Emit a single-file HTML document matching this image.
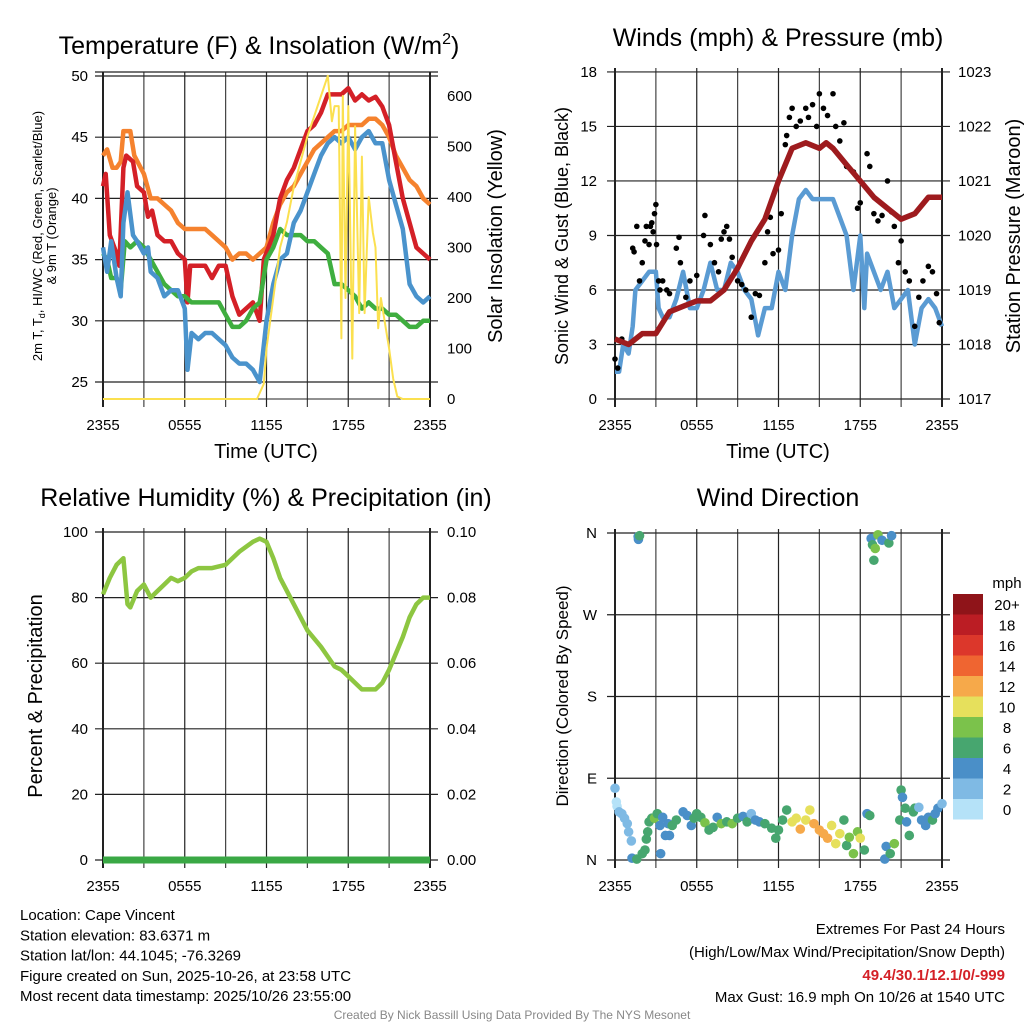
<!DOCTYPE html>
<html><head><meta charset="utf-8"><style>
html,body{margin:0;padding:0;background:#fff;width:1024px;height:1024px;overflow:hidden}
svg text{font-family:"Liberation Sans",sans-serif;fill:#000}
</style></head><body>
<svg id="c" width="1024" height="1024" xmlns="http://www.w3.org/2000/svg"></svg>
<script>
const timeTicks = ["2355","0555","1155","1755","2355"];
const tempTicks = [25,30,35,40,45,50];
const solarTicks = [0,100,200,300,400,500,600];
const windTicks = [0,3,6,9,12,15,18];
const presTicks = [1017,1018,1019,1020,1021,1022,1023];
const rhTicks = [0,20,40,60,80,100];
const precipTicks = ["0.00","0.02","0.04","0.06","0.08","0.10"];
const dirTicks = ["N","E","S","W","N"];
const legendLabels = ["0","2","4","6","8","10","12","14","16","18","20+"];
const legendColors = ["#b5e2f8","#7fbae4","#4a8fc8","#47a66f","#7bc24b","#e6e05c","#f6a94a","#ef6531","#dc372b","#bb1d24","#8f1419"];

const tempRed = [[0,41],[0.2,42],[0.5,37],[1,35.5],[1.2,34.5],[1.5,42.5],[1.7,43.5],[2.2,43],[2.5,41],[3,40.5],[3.3,38.5],[3.6,39],[4,37],[4.5,36.5],[5,36.5],[5.5,35.5],[6,35],[6.2,31.5],[6.4,34.5],[7,34.5],[7.5,34.5],[8,33.5],[8.5,34.5],[9,34.5],[9.5,32],[10,30.5],[10.5,31],[11,31.5],[11.5,30],[11.8,35],[12.5,37],[13,40],[13.5,41.5],[14,42.5],[14.5,44],[15,45.5],[15.5,46],[16,47],[16.5,48.5],[17,48.5],[17.5,48.5],[18,49],[18.5,48],[19,48.5],[19.5,48],[20,48.3],[20.5,47.5],[21,46],[21.5,43],[22,40],[22.5,38],[23,36],[23.5,35.5],[24,35]];
const tempOrange = [[0,43.5],[0.3,44],[0.7,42.5],[1,42.5],[1.3,43],[1.5,45.5],[2,45.5],[2.3,43.5],[3,42],[3.5,40],[4,40],[4.5,39.5],[5,39],[5.5,38],[6,37.5],[6.5,37.5],[7,37.5],[7.5,37.5],[8,37],[8.5,36.5],[9,36],[9.5,35],[10,35.5],[10.5,35.5],[11,35],[11.5,35.5],[12,36],[12.5,38],[13,39.5],[13.5,40.5],[14,41],[14.5,42],[15,43],[15.5,44],[16,44.5],[16.5,45],[17,45.5],[17.5,45.5],[18,46],[18.5,46],[19,46],[19.5,46.5],[20,46.5],[20.5,46],[21,45],[21.5,43.5],[22,42.5],[22.5,41.5],[23,41],[23.5,40],[24,39.5]];
const tempGreen = [[0,35.5],[0.3,35],[0.6,33.5],[1,33.5],[1.3,32.5],[1.6,36.5],[2,36],[2.5,36.5],[3,36],[3.5,35],[4,34],[4.5,33],[5,32.5],[5.5,32],[6,32],[6.5,31.5],[7,31.5],[7.5,31.5],[8,31.5],[8.5,31.5],[9,30.5],[9.5,29.5],[10,29.5],[10.5,30],[11,31],[11.5,31.5],[12,35],[12.5,36],[13,37.5],[13.5,37],[14,37],[14.5,37],[15,36.5],[15.5,36.5],[16,36],[16.5,35.5],[17,33],[17.5,33],[18,32.5],[18.5,32],[19,31],[19.5,31.5],[20,31],[20.5,31],[21,30.5],[21.5,30.5],[22,30],[22.5,29.5],[23,29.5],[23.5,30],[24,30]];
const tempBlue = [[0,36],[0.3,34],[0.6,36.5],[1,33.5],[1.3,32],[1.5,38],[1.8,40.5],[2.2,37],[2.5,36.5],[3,35.5],[3.3,36],[3.5,34],[4,33.5],[4.5,32],[5,32.5],[5.5,32.5],[6,31],[6.2,26],[6.5,29],[7,28.5],[7.5,29],[8,29],[8.5,28.5],[9,28],[9.5,27],[10,26.5],[10.5,26.5],[11,26],[11.5,25],[11.8,28],[12,30],[12.5,33],[13,35],[13.5,35.5],[14,38],[14.5,39],[15,40.5],[15.5,42],[16,43.5],[16.5,44.5],[17,45],[17.5,44.5],[18,45],[18.5,44],[19,45],[19.5,45.5],[20,44.5],[20.5,44.5],[21,41.5],[21.5,39.5],[22,37.5],[22.5,33],[23,32],[23.5,31.5],[24,32]];
const solar = [[0,0],[11.3,0],[11.8,30],[12,100],[12.5,200],[13,300],[13.5,350],[14,420],[14.5,470],[15,520],[15.5,560],[16,600],[16.5,640],[16.8,550],[17,580],[17.3,580],[17.5,120],[17.6,600],[17.8,200],[18,580],[18.3,80],[18.5,540],[18.8,170],[19,480],[19.2,170],[19.5,400],[19.8,330],[20,300],[20.2,140],[20.4,200],[20.7,150],[21,100],[21.3,40],[21.6,5],[22,0],[24,0]];
const windSpeed = [[0,1.5],[0.3,1.5],[0.6,3],[1,2.5],[1.3,4],[1.5,6],[2,6.5],[2.5,7],[3,7],[3.2,5],[3.5,4.5],[4,4.5],[4.5,5.5],[5,7],[5.5,5],[6,5],[6.5,6],[7,7.5],[7.5,6],[8,6],[8.5,7.5],[9,7],[9.5,6],[10,5.5],[10.5,3.5],[11,5],[11.5,5],[12,7],[12.5,6],[13,9],[13.5,11],[14,11.5],[14.5,11],[15,11],[15.5,11],[16,11],[16.5,10],[17,9],[17.5,6],[18,9],[18.3,5],[18.5,8],[19,7],[19.5,6],[20,7],[20.5,5],[21,5.5],[21.5,6],[22,3],[22.5,5],[23,5.5],[23.5,5],[24,4]];
const pressure = [[0,1018.1],[1,1018.0],[2,1018.2],[3,1018.2],[3.5,1018.4],[4,1018.6],[5,1018.7],[6,1018.8],[7,1018.8],[8,1019.0],[9,1019.4],[10,1019.9],[11,1020.3],[12,1021.0],[12.5,1021.3],[13,1021.6],[14,1021.7],[15,1021.6],[15.5,1021.7],[16,1021.6],[17,1021.3],[18,1021.0],[19,1020.7],[20,1020.5],[21,1020.3],[22,1020.4],[23,1020.7],[24,1020.7]];
const gusts = [[0,2.2],[0.2,1.7],[0.5,3.3],[1.3,8.3],[1.4,8.1],[1.6,9.5],[1.8,6.5],[2,7.5],[2.2,8.7],[2.3,9.5],[2.5,8.5],[2.6,9.5],[2.7,9.7],[2.8,9.2],[2.9,10.2],[3,10.7],[3.05,8.5],[3.2,6.5],[3.3,6.0],[3.5,6.5],[3.8,6],[4,5.8],[4.5,8.3],[4.7,8.9],[4.8,7.5],[5.2,5.6],[5.5,6.5],[6,6.8],[6.5,9.0],[6.6,10.1],[7,8.5],[7.3,7.5],[7.6,7],[7.8,8.8],[8,9.2],[8.2,9.5],[8.4,8.8],[8.6,7.8],[9,6.5],[9.3,6.3],[9.6,6.0],[10,4.5],[10.3,5.8],[10.6,5.7],[11,7.5],[11.2,9.2],[11.4,10],[11.6,8],[12,8.2],[12.2,10.2],[12.5,14.0],[12.6,14.5],[12.8,15.5],[13,16],[13.3,15],[13.6,15.3],[14,16],[14.2,15.5],[14.5,16.2],[14.8,15],[15,16.8],[15.3,16],[15.6,15.6],[16,16.8],[16.2,15],[16.5,14.2],[16.8,15.2],[17,12.8],[17.5,12.5],[17.8,10.5],[18,10.8],[18.5,13.5],[18.7,12.8],[19,10.2],[19.3,9.8],[19.6,10.1],[20,12],[20.3,10.3],[20.5,9.5],[20.8,7.5],[21,8.7],[21.3,7],[21.6,6.5],[22,4],[22.3,5.6],[22.6,6.5],[23,7.3],[23.3,7],[23.6,5.8],[23.8,4.2]];
const humidity = [[0,81],[0.5,86],[1,90],[1.5,92],[1.8,78],[2,77],[2.5,82],[3,84],[3.5,80],[4,82],[4.5,84],[5,86],[5.5,85],[6,86],[6.5,88],[7,89],[8,89],[9,90],[10,94],[11,97],[11.5,98],[12,97],[12.5,92],[13,86],[14,78],[15,70],[16,65],[16.5,62],[17,59],[17.5,58],[18,56],[18.5,54],[19,52],[20,52],[20.5,54],[21,58],[22,68],[22.5,74],[23,78],[23.5,80],[24,80]];
const precip = [[0,0],[24,0]];
const dirHours = [0,0.1,0.15,0.3,0.5,0.7,0.9,1.0,1.2,1.25,1.6,1.7,1.72,1.8,2.0,2.2,2.3,2.4,2.5,2.7,2.9,3.1,3.3,3.35,3.5,3.7,3.9,4,4.2,4.5,5,5.3,5.6,5.8,6,6.3,6.6,6.9,7.2,7.5,7.8,8.2,8.6,9,9.4,9.7,10,10.3,10.6,11,11.5,11.8,12,12.3,12.6,13,13.3,13.6,14,14.3,14.6,15,15.3,15.6,15.9,16.2,16.5,16.8,17,17.2,17.5,17.8,18,18.3,18.5,18.7,18.8,18.9,19,19.1,19.3,19.6,19.8,19.9,20.1,20.3,20.2,20.5,20.9,21,21.1,21.3,21.4,21.6,21.9,22,22.3,22.5,22.8,23,23.3,23.5,23.7,24];
const dirDegrees = [79,64,59,53,51,46,40,31,21,2,1,356,353,357,7,11,23,31,42,46,46,51,38,7,47,27,40,27,38,44,53,49,38,46,51,47,41,33,36,47,40,42,40,46,48,42,51,44,42,40,35,24,33,44,55,42,46,34,44,55,40,33,29,24,38,18,29,44,16,25,7,31,24,11,51,49,354,347,330,343,358,352,1,15,349,357,7,18,44,77,69,57,42,27,53,57,58,44,38,47,44,51,57,62];
const dirSpeeds = [2,1,1,2,2,2,2,2,2,4,6,4,4,6,6,6,6,6,6,6,8,6,4,4,4,4,4,4,6,6,4,4,4,6,6,6,8,6,6,4,8,6,8,6,4,6,2,4,4,6,6,6,6,6,6,10,10,12,10,10,12,12,12,12,10,10,10,6,6,8,8,8,10,6,4,6,4,6,6,8,8,4,4,4,6,4,6,8,6,6,4,6,4,6,6,6,2,4,4,4,6,4,4,2];

const NS="http://www.w3.org/2000/svg";
const svg=document.getElementById('c');
function mk(tag,attrs,parent){const e=document.createElementNS(NS,tag);for(const k in attrs)e.setAttribute(k,attrs[k]);(parent||svg).appendChild(e);return e;}
function txt(s,x,y,size,anchor,parent,extra){const t=mk('text',Object.assign({x:x,y:y,'font-size':size,'text-anchor':anchor||'middle'},extra||{}),parent);t.textContent=s;return t;}

const panels=[
 {id:'temperature',x0:103,x1:430,y0:72,y1:399},
 {id:'wind',x0:615,x1:942,y0:72,y1:399},
 {id:'humidity',x0:103,x1:430,y0:532,y1:860},
 {id:'direction',x0:615,x1:942,y0:533,y1:860}
];
function xs(p,h){return p.x0+h*(p.x1-p.x0)/24;}
function pathOf(arr,fx,fy){return arr.map((d,i)=>(i?'L':'M')+fx(d[0]).toFixed(1)+' '+fy(d[1]).toFixed(1)).join(' ');}

function grid(p,g,hLines){
  for(let i=0;i<=8;i++){const x=xs(p,i*3);
    const l=mk('line',{x1:x,x2:x,y1:p.y0-(p.id==='temperature'?0:4),y2:p.y1+8,stroke:i%2?'#444':'#222','stroke-width':i===0||i===8?2:1.2},g);
    
    
  }
  hLines.forEach(y=>{const l=mk('line',{x1:p.x0-8,x2:p.x1+8,y1:y,y2:y,stroke:'#222','stroke-width':1.2},g);
    
    });
  timeTicks.forEach((s,i)=>{const t=txt(s,xs(p,i*6),p.y1+31,15,'middle',g);
    
    });
}

(function(){
 const p=panels[0];
 const g=mk('g',{});
 const yT=v=>76+(50-v)*12.24, yS=v=>399-v*0.505;
 const tt=txt('Temperature (F) & Insolation (W/m',259,54,25,'middle',g);
 const sup=mk('tspan',{dy:-10,'font-size':16},tt);sup.textContent='2';
 const cl=mk('tspan',{dy:10},tt);cl.textContent=')';
 
 grid(p,g,tempTicks.map(yT).concat([72]));
 mk('line',{x1:p.x0,x2:p.x1,y1:p.y1,y2:p.y1,stroke:'#222','stroke-width':1},g);
 tempTicks.forEach(v=>{const t=txt(String(v),88,yT(v)+5,15,'end',g);});
 solarTicks.forEach(v=>{const t=txt(String(v),447,yS(v)+5,15,'start',g);});
 const series=[[tempOrange,'#f5822e','orange-9m-temp-line'],[tempRed,'#d42027','red-2m-temp-line'],[tempGreen,'#3fae3f','green-dewpoint-line'],[tempBlue,'#4a93cc','blue-heatindex-windchill-line']];
 series.forEach(s=>{const e=mk('path',{d:pathOf(s[0],h=>xs(p,h),yT),fill:'none',stroke:s[1],'stroke-width':4.5,'stroke-linejoin':'round'},g);
   });
 const sl=mk('path',{d:pathOf(solar,h=>xs(p,h),yS),fill:'none',stroke:'#fbe04f','stroke-width':2,'stroke-linejoin':'round'},g);
 
 const a=txt('2m T, T',0,0,13,'middle',g,{transform:'translate(42,236) rotate(-90)'});
 const sb=mk('tspan',{dy:3,'font-size':9},a);sb.textContent='d';
 const r=mk('tspan',{dy:-3},a);r.textContent=', HI/WC (Red, Green, Scarlet/Blue)';
 
 const a2=txt('& 9m T (Orange)',0,0,13,'middle',g,{transform:'translate(56,236) rotate(-90)'});
 
 const st=txt('Solar Insolation (Yellow)',0,0,20,'middle',g,{transform:'translate(502,236) rotate(-90)'});
 
 const xt=txt('Time (UTC)',266,458,20,'middle',g);
})();

(function(){
 const p=panels[1];
 const g=mk('g',{});
 const yW=v=>399-v*18.17, yP=v=>399-(v-1017)*54.5;
 const tt=txt('Winds (mph) & Pressure (mb)',778,46,25,'middle',g);
 grid(p,g,windTicks.map(yW));
 windTicks.forEach(v=>{const t=txt(String(v),597,yW(v)+5,15,'end',g);});
 presTicks.forEach(v=>{const t=txt(String(v),958,yP(v)+5,15,'start',g);});
 const wl=mk('path',{d:pathOf(windSpeed,h=>xs(p,h),yW),fill:'none',stroke:'#5a9bd3','stroke-width':4.5,'stroke-linejoin':'round'},g);
 
 gusts.forEach(d=>{const c=mk('circle',{cx:xs(p,d[0]),cy:yW(d[1]),r:2.8,fill:'#000'},g);
   });
 const pl=mk('path',{d:pathOf(pressure,h=>xs(p,h),yP),fill:'none',stroke:'#9e1b1e','stroke-width':5.5,'stroke-linejoin':'round'},g);
 
 const a=txt('Sonic Wind & Gust (Blue, Black)',0,0,18,'middle',g,{transform:'translate(568,236) rotate(-90)'});
 const b=txt('Station Pressure (Maroon)',0,0,20,'middle',g,{transform:'translate(1020,236) rotate(-90)'});
 const xt=txt('Time (UTC)',778,458,20,'middle',g);
})();

(function(){
 const p=panels[2];
 const g=mk('g',{});
 const yH=v=>860-v*3.28, yR=v=>860-v*3280;
 const tt=txt('Relative Humidity (%) & Precipitation (in)',266,506,25,'middle',g);
 grid(p,g,rhTicks.map(yH));
 rhTicks.forEach(v=>{const t=txt(String(v),88,yH(v)+5,15,'end',g);});
 precipTicks.forEach((s,i)=>{const t=txt(s,447,yH(i*20)+5,15,'start',g);});
 const hl=mk('path',{d:pathOf(humidity,h=>xs(p,h),yH),fill:'none',stroke:'#8dc641','stroke-width':4.5,'stroke-linejoin':'round'},g);
 
 const pr=mk('path',{d:pathOf(precip,h=>xs(p,h),yR),fill:'none',stroke:'#3aa845','stroke-width':7},g);
 
 const a=txt('Percent & Precipitation',0,0,20,'middle',g,{transform:'translate(42,696) rotate(-90)'});
})();

(function(){
 const p=panels[3];
 const g=mk('g',{});
 const yD=v=>860-v*327/360;
 const tt=txt('Wind Direction',778,506,25,'middle',g);
 grid(p,g,[0,90,180,270,360].map(yD));
 dirTicks.forEach((s,i)=>{const t=txt(s,597,yD(i*90)+5,15,'end',g);});
 dirHours.forEach((h,i)=>{const bin=Math.min(10,Math.floor(dirSpeeds[i]/2));
   const c=mk('circle',{cx:xs(p,h),cy:yD(dirDegrees[i]),r:4.8,fill:legendColors[bin]},g);
   });
 const a=txt('Direction (Colored By Speed)',0,0,17,'middle',g,{transform:'translate(568,696) rotate(-90)'});
 const lg=mk('g',{},g);
 const u=txt('mph',1007,588,15,'middle',lg);
 legendLabels.forEach((s,i)=>{const y=799-i*20.5;
   const r=mk('rect',{x:953,y:y,width:30,height:20.5,fill:legendColors[i]},lg);
   
   const t=txt(s,1007,y+16,15,'middle',lg);});
})();

const info=["Location: Cape Vincent","Station elevation: 83.6371 m","Station lat/lon: 44.1045; -76.3269","Figure created on Sun, 2025-10-26, at 23:58 UTC","Most recent data timestamp: 2025/10/26 23:55:00"];
info.forEach((s,i)=>{const t=txt(s,20,920+i*20.3,15,'start');});
const e1=txt('Extremes For Past 24 Hours',1005,934,15,'end');
const e2=txt('(High/Low/Max Wind/Precipitation/Snow Depth)',1005,957,15,'end');
const e3=txt('49.4/30.1/12.1/0/-999',1005,980,15,'end',null,{'font-weight':'bold',style:'fill:#d42027'});
const e4=txt('Max Gust: 16.9 mph On 10/26 at 1540 UTC',1005,1002,15,'end');
const cr=txt('Created By Nick Bassill Using Data Provided By The NYS Mesonet',512,1019,12,'middle',null,{style:'fill:#888'});
</script>
</body></html>
